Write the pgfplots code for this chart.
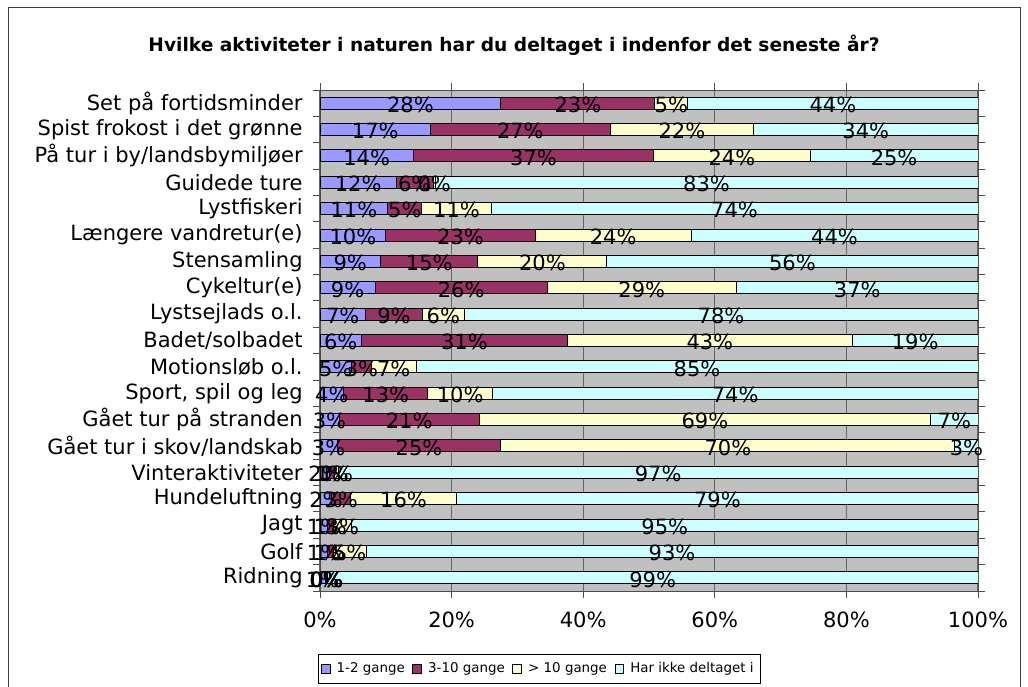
\documentclass[border=0pt]{standalone}
\usepackage{pgfplots}
\usepackage{pgfplotstable}
\pgfplotsset{compat=1.18}
\usepackage{fontspec}
\setmainfont{DejaVu Sans}
\definecolor{cA}{HTML}{9999FF}
\definecolor{cB}{HTML}{993366}
\definecolor{cC}{HTML}{FFFFCC}
\definecolor{cD}{HTML}{CCFFFF}
\definecolor{bg}{HTML}{C0C0C0}

\pgfplotstableread{
idx a b c d la lb lc ld
0 27.5 23.4 5.0 44.1 28 23 5 44
1 16.8 27.3 21.8 34.1 17 27 22 34
2 14.2 36.5 23.8 25.5 14 37 24 25
3 11.6 5.6 0.3 82.5 12 6 0 83
4 10.3 5.2 10.5 74.0 11 5 11 74
5 10.0 22.7 23.7 43.6 10 23 24 44
6 9.2 14.8 19.6 56.4 9 15 20 56
7 8.4 26.1 28.8 36.7 9 26 29 37
8 6.9 8.7 6.3 78.1 7 9 6 78
9 6.3 31.3 43.3 19.1 6 31 43 19
10 4.8 3.0 6.8 85.4 5 3 7 85
11 3.6 12.8 9.8 73.8 4 13 10 74
12 2.9 21.3 68.6 7.2 3 21 69 7
13 2.6 24.9 69.0 3.5 3 25 70 3
14 1.5 0.7 0.6 97.2 2 1 1 97
15 1.8 2.8 16.2 79.2 2 3 16 79
16 1.1 0.9 2.8 95.2 1 1 3 95
17 1.1 0.9 5.0 93.0 1 1 5 93
18 0.8 0.2 0.1 98.9 1 0 0 99
}\data
\pgfplotstablecreatecol[create col/expr={\thisrow{a}/2}]{ma}\data
\pgfplotstablecreatecol[create col/expr={\thisrow{a}+\thisrow{b}/2}]{mb}\data
\pgfplotstablecreatecol[create col/expr={\thisrow{a}+\thisrow{b}+\thisrow{c}/2}]{mc}\data
\pgfplotstablecreatecol[create col/expr={\thisrow{a}+\thisrow{b}+\thisrow{c}+\thisrow{d}/2}]{md}\data

\newcommand{\lf}{\fontsize{10.5}{12}\selectfont}

\pgfplotsset{
  base/.style={
    at={(160pt,47.5pt)}, anchor=south west, scale only axis,
    width=329pt, height=250.5pt,
    xmin=0, xmax=100, ymin=-0.5, ymax=18.5, y dir=reverse,
  },
  lab/.style={draw=none, mark=none, nodes near coords={\pgfplotspointmeta\%},
    point meta=explicit symbolic,
    every node near coord/.style={anchor=center, inner sep=0pt, yshift=-0.8pt, font=\lf, text=black}},
}

\begin{document}
\begin{tikzpicture}
\useasboundingbox (0,0) rectangle (514pt,343pt);
\draw[black!75, line width=0.5pt] (4pt,-2pt) -- (4pt,339pt) -- (510pt,339pt) -- (510pt,-2pt);
\node[font=\bfseries\fontsize{9.3}{11}\selectfont] at (257pt,320.5pt)
  {Hvilke aktiviteter i naturen har du deltaget i indenfor det seneste år?};
\begin{axis}[base,
  xbar stacked, bar width=6pt,
  axis background/.style={fill=bg},
  axis line style={black!70, line width=0.5pt},
  xtick={0,20,...,100},
  xticklabel={\pgfmathprintnumber{\tick}\%},
  xmajorgrids, grid style={black!60, line width=0.6pt},
  ytick={-0.5,0.5,...,18.5}, yticklabels={},
  extra y ticks={0,...,18},
  extra y tick labels={Set på fortidsminder, Spist frokost i det grønne, På tur i by/landsbymiljøer, Guidede ture, Lystfiskeri, Længere vandretur(e), Stensamling, Cykeltur(e), Lystsejlads o.l., Badet/solbadet, Motionsløb o.l., {Sport, spil og leg}, Gået tur på stranden, Gået tur i skov/landskab, Vinteraktiviteter, Hundeluftning, Jagt, Golf, Ridning},
  extra y tick style={major tick length=0pt, grid=none},
  tick align=outside, major tick length=3.5pt,
  tick style={black!70, line width=0.5pt},
  yticklabel style={font=\lf, inner sep=0pt, xshift=-8.5pt},
  xticklabel style={font=\lf, inner sep=0pt, yshift=-7pt},
  /pgf/number format/assume math mode=true,
  legend columns=4,
  legend style={at={(0,0)}, anchor=north west, xshift=-1pt, yshift=-31.5pt,
    draw=black, line width=0.5pt, font=\fontsize{6.7}{8.5}\selectfont,
    inner xsep=1.2pt, inner ysep=2pt,
    /tikz/every odd column/.append style={column sep=1pt},
    /tikz/every even column/.append style={column sep=1.8pt}},
  legend image code/.code={\draw[#1, line width=0.5pt] (0pt,-2.2pt) rectangle (4.4pt,2.2pt);},
]
\addplot[fill=cA, draw=black, line width=0.5pt] table[x=a, y=idx] {\data};
\addplot[fill=cB, draw=black, line width=0.5pt] table[x=b, y=idx] {\data};
\addplot[fill=cC, draw=black, line width=0.5pt] table[x=c, y=idx] {\data};
\addplot[fill=cD, draw=black, line width=0.5pt] table[x=d, y=idx] {\data};
\legend{1-2 gange, 3-10 gange, > 10 gange, Har ikke deltaget i}
\end{axis}
\begin{axis}[base, hide axis, clip=false]
\addplot[lab] table[x=ma, y=idx, meta=la] {\data};
\addplot[lab] table[x=mb, y=idx, meta=lb] {\data};
\addplot[lab] table[x=mc, y=idx, meta=lc] {\data};
\addplot[lab] table[x=md, y=idx, meta=ld] {\data};
\end{axis}
\end{tikzpicture}
\end{document}
